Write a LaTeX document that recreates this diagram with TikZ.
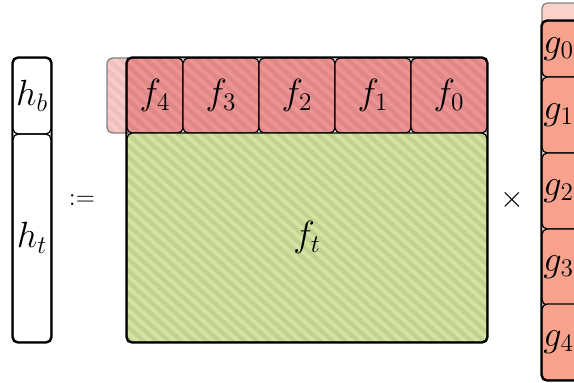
\documentclass[tikz,border=0pt]{standalone}
\usetikzlibrary{patterns.meta}
\definecolor{fred}{HTML}{EE9393}
\definecolor{fredline}{HTML}{DE8888}
\definecolor{fghost}{HTML}{F8CACA}
\definecolor{fghostline}{HTML}{F1BEBE}
\definecolor{tgreen}{HTML}{D4E3A0}
\definecolor{tgreenline}{HTML}{C1D192}
\definecolor{gsalmon}{HTML}{F6A28C}
\definecolor{gghost}{HTML}{FAD2CA}
\begin{document}
\begin{tikzpicture}[
    cell/.style={rectangle, draw, line width=0.7pt, rounded corners=3pt, inner sep=0pt, font=\huge},
    hatch/.style 2 args={preaction={fill=#1}, pattern={Lines[angle=-42,distance=4.8pt,line width=2.4pt]}, pattern color=#2},
    outer/.style={line width=1.1pt, rounded corners=3pt}
]
\useasboundingbox (0,0) rectangle (11.48,7.64);

% Vettore h
\node[cell, minimum width=0.76cm, minimum height=1.52cm] (hb) at (0.64,5.72) {$h_b$};
\node[cell, minimum width=0.76cm, minimum height=4.16cm] (ht) at (0.64,2.88) {$h_t$};
\draw[outer] (hb.north west) rectangle (ht.south east);

\node[font=\Large] (eq) at (1.64,3.64) {$:=$};

% Matrice f
\node[cell, draw=gray, hatch={fghost}{fghostline}, minimum width=1.52cm, minimum height=1.5cm] (fg) at (2.90,5.73) {};
\node[cell, hatch={fred}{fredline}, minimum width=1.12cm, minimum height=1.5cm] (f4) at (3.10,5.73) {$f_4$};
\node[cell, hatch={fred}{fredline}, minimum width=1.52cm, minimum height=1.5cm] (f3) at (4.42,5.73) {$f_3$};
\node[cell, hatch={fred}{fredline}, minimum width=1.52cm, minimum height=1.5cm] (f2) at (5.94,5.73) {$f_2$};
\node[cell, hatch={fred}{fredline}, minimum width=1.52cm, minimum height=1.5cm] (f1) at (7.46,5.73) {$f_1$};
\node[cell, hatch={fred}{fredline}, minimum width=1.52cm, minimum height=1.5cm] (f0) at (8.98,5.73) {$f_0$};
\node[cell, hatch={tgreen}{tgreenline}, minimum width=7.2cm, minimum height=4.18cm] (ft) at (6.14,2.89) {$f_t$};
\draw[outer] (f4.north west) rectangle (ft.south east);

\node[font=\LARGE] (times) at (10.24,3.64) {$\times$};

% Vettore g
\node[cell, draw=gray, fill=gghost, minimum width=1.52cm, minimum height=1.48cm] (gg) at (11.6,6.84) {};
\node[cell, fill=gsalmon, minimum width=1.52cm, minimum height=1.12cm, label={[anchor=west, font=\huge, inner sep=1pt]west:$g_0$}] (g0) at (11.6,6.66) {};
\node[cell, fill=gsalmon, minimum width=1.52cm, minimum height=1.52cm, label={[anchor=west, font=\huge, inner sep=1pt]west:$g_1$}] (g1) at (11.6,5.34) {};
\node[cell, fill=gsalmon, minimum width=1.52cm, minimum height=1.52cm, label={[anchor=west, font=\huge, inner sep=1pt]west:$g_2$}] (g2) at (11.6,3.82) {};
\node[cell, fill=gsalmon, minimum width=1.52cm, minimum height=1.52cm, label={[anchor=west, font=\huge, inner sep=1pt]west:$g_3$}] (g3) at (11.6,2.30) {};
\node[cell, fill=gsalmon, minimum width=1.52cm, minimum height=1.52cm, label={[anchor=west, font=\huge, inner sep=1pt]west:$g_4$}] (g4) at (11.6,0.80) {};
\draw[outer] (g0.north west) rectangle (g4.south east);
\end{tikzpicture}
\end{document}
